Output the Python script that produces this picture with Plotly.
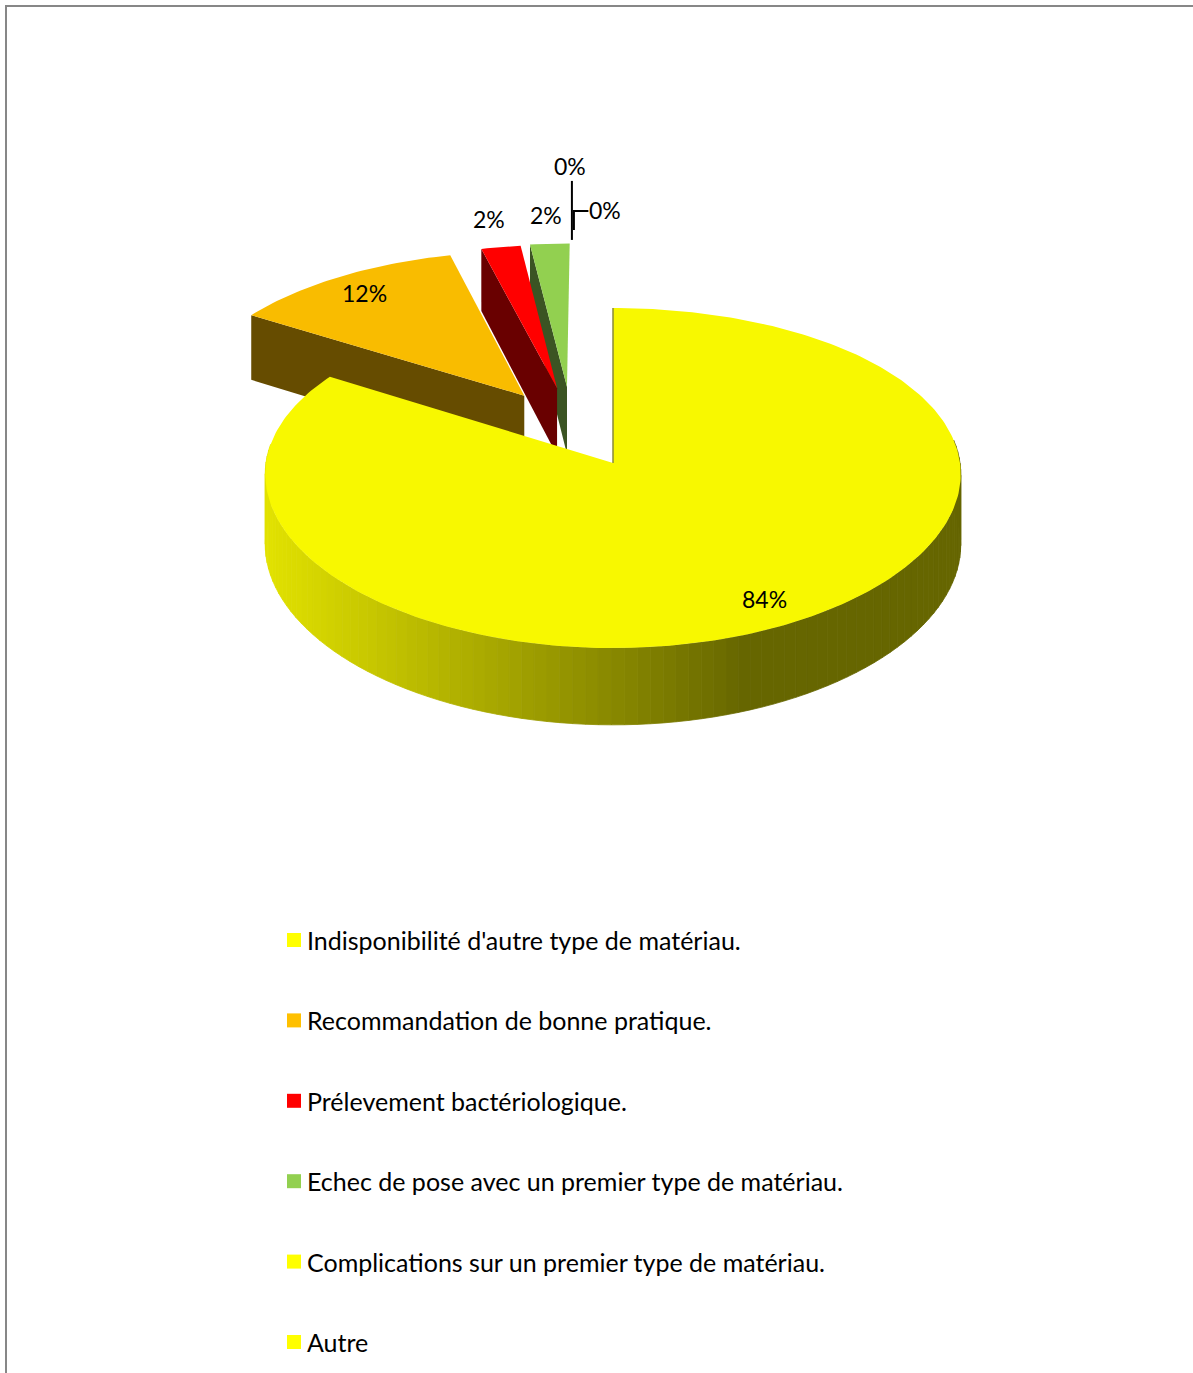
import math
import plotly.graph_objects as go

# Survey answers: reasons for the choice of catheter material (counts)
categories = [
    "Indisponibilité d'autre type de matériau.",
    "Recommandation de bonne pratique.",
    "Prélevement bactériologique.",
    "Echec de pose avec un premier type de matériau.",
    "Complications sur un premier type de matériau.",
    "Autre",
]
counts = [42, 6, 1, 1, 0, 0]

# Colours: top face, side face, legend key
top_colors = ["#F8F800", "#F9BC00", "#FF0000", "#92D050", "#F8F800", "#F8F800"]
side_colors = ["#666600", "#664C00", "#690000", "#3B5423", "#666600", "#666600"]
key_colors = ["#FFFF00", "#FFC000", "#FF0000", "#92D050", "#FFFF00", "#FFFF00"]
exploded = [False, True, True, True, True, True]

W, H = 1193, 1373
# 3-D view of the disc: centre, radii, perspective strength and thickness (px)
CX, CY = 613.0, 463.0
RX, RY = 347.0, 168.7
PERSP_X, PERSP_Y = 0.065, 0.0884
THICK = 70.0
PULL = 0.49            # explosion distance, in radius units
LABEL_IN, LABEL_OUT = 0.86, 1.22
FONT = "Lato"

# legend block
LEG_X, LEG_Y0, LEG_STEP, KEY = 287, 940, 80.4, 14


def proj(u, v, z=0.0):
    """Disc coords (u right, v away from viewer, z depth 0..1) -> page px."""
    wx = 1.0 + PERSP_X * v
    wy = 1.0 + PERSP_Y * v
    return CX + RX * u / wx, CY - RY * v / wy + z * THICK / wy


def disc(theta_deg, r, off):
    t = math.radians(theta_deg)
    return off[0] + r * math.sin(t), off[1] + r * math.cos(t)


total = sum(counts)
angles = []
acc = 0.0
for c in counts:
    a0 = 360.0 * acc / total
    acc += c
    angles.append((a0, 360.0 * acc / total))

# exploded slices are pushed half-way between their own bisector and the
# bisector of the whole exploded group
grp = [a for a, e in zip(angles, exploded) if e]
grp_mid = (grp[0][0] + grp[-1][1]) / 2.0
offsets = []
for (a0, a1), e in zip(angles, exploded):
    if e:
        d = math.radians(((a0 + a1) / 2.0 + grp_mid) / 2.0)
        offsets.append((PULL * math.sin(d), PULL * math.cos(d)))
    else:
        offsets.append((0.0, 0.0))

fig = go.Figure()


def poly(pts, color, line=None):
    xs = [p[0] for p in pts] + [pts[0][0]]
    ys = [p[1] for p in pts] + [pts[0][1]]
    fig.add_trace(go.Scatter(
        x=xs, y=ys, mode="lines", fill="toself", fillcolor=color,
        line=dict(width=line[1] if line else 0, color=line[0] if line else color),
        hoverinfo="skip", showlegend=False))


def lerp_col(x):
    # horizontal shading of the curved wall: light on the left, dark on the right
    x0, x1 = 267.0, 745.0
    t = min(max((x - x0) / (x1 - x0), 0.0), 1.0)
    g = round(226 - t * (226 - 102))
    return f"rgb({g},{g},0)"


def draw_slice(i):
    a0, a1 = angles[i]
    if a1 - a0 <= 0:
        return
    off = offsets[i]
    apex_top = proj(off[0], off[1], 0)
    apex_bot = proj(off[0], off[1], 1)
    # radial cut faces that face the viewer
    for ang, sgn in ((a0, -1), (a1, 1)):
        n = math.radians(ang + sgn * 90)
        if math.cos(n) < -1e-6:
            ou, ov = disc(ang, 1.0, off)
            poly([apex_top, proj(ou, ov, 0), proj(ou, ov, 1), apex_bot], side_colors[i])
    # outer curved wall, split into strips for the shading
    n_steps = max(2, int((a1 - a0) / 2.0))
    strips = []
    for k in range(n_steps):
        t0 = a0 + (a1 - a0) * k / n_steps
        t1 = a0 + (a1 - a0) * (k + 1) / n_steps
        mid = math.radians((t0 + t1) / 2)
        if math.cos(mid) < 0.12:
            strips.append((math.cos(mid), t0, t1))
    strips.sort(key=lambda s: -s[0])
    for _, t0, t1 in strips:
        p = [proj(*disc(t0, 1.0, off), 0), proj(*disc(t1, 1.0, off), 0),
             proj(*disc(t1, 1.0, off), 1), proj(*disc(t0, 1.0, off), 1)]
        xm = sum(q[0] for q in p) / 4
        col = lerp_col(xm) if i == 0 else side_colors[i]
        poly(p, col, (col, 0.8))
    # top face
    pts = [apex_top]
    n_arc = max(2, int((a1 - a0) / 1.0))
    for k in range(n_arc + 1):
        t = a0 + (a1 - a0) * k / n_arc
        pts.append(proj(*disc(t, 1.0, off), 0))
    poly(pts, top_colors[i])


# paint back-to-front: slices lying further away first
order = sorted(range(len(counts)), key=lambda i: -offsets[i][1])
for i in order:
    draw_slice(i)

# edge-on cut face of the main slice at twelve o'clock
a_start = angles[0][0]
fig.add_trace(go.Scatter(
    x=[proj(*disc(a_start, 1.0, offsets[0]))[0], proj(*offsets[0])[0]],
    y=[proj(*disc(a_start, 1.0, offsets[0]))[1], proj(*offsets[0])[1]],
    mode="lines", line=dict(color="#8A8A3A", width=1.5),
    hoverinfo="skip", showlegend=False))

# data labels
annotations = []
zero_seen = 0
for i, c in enumerate(counts):
    a0, a1 = angles[i]
    mid = (a0 + a1) / 2.0
    pct = f"{round(100 * c / total)}%"
    if c == 0:
        # labels of empty slices sit above the disc with leader lines
        ax_, ay_ = proj(*disc(mid, 1.0, offsets[i]))
        if zero_seen == 0:
            lx, ly = ax_ - 4, ay_ - 77
            fig.add_trace(go.Scatter(
                x=[ax_ - 2.5, ax_ - 2.5], y=[ay_ - 3, ly + 15], mode="lines",
                line=dict(color="black", width=2), hoverinfo="skip", showlegend=False))
        else:
            lx, ly = ax_ + 31, ay_ - 33
            fig.add_trace(go.Scatter(
                x=[ax_ - 0.5, ax_ - 0.5, lx - 17], y=[ay_ - 13, ly + 1, ly + 1],
                mode="lines", line=dict(color="black", width=2),
                hoverinfo="skip", showlegend=False))
        zero_seen += 1
    else:
        r = LABEL_IN if (a1 - a0) > 20 else LABEL_OUT
        lx, ly = proj(*disc(mid, r, offsets[i]))
    annotations.append(dict(
        x=lx, y=ly, xref="x", yref="y", text=pct, showarrow=False,
        font=dict(family=FONT, size=23, color="black"),
        xanchor="center", yanchor="middle"))

# legend: colour keys and category names
shapes = [dict(type="rect", xref="x", yref="y", x0=6, y0=6, x1=W + 10, y1=H + 10,
               line=dict(color="#878787", width=2), layer="below")]
for i, name in enumerate(categories):
    yc = LEG_Y0 + LEG_STEP * i
    shapes.append(dict(type="rect", xref="x", yref="y",
                       x0=LEG_X, x1=LEG_X + KEY, y0=yc - KEY / 2, y1=yc + KEY / 2,
                       fillcolor=key_colors[i], line=dict(width=0)))
    annotations.append(dict(
        x=LEG_X + KEY + 4, y=yc, xref="x", yref="y", text=name, showarrow=False,
        font=dict(family=FONT, size=25, color="black"),
        xanchor="left", yanchor="middle"))

fig.update_layout(
    width=W, height=H,
    margin=dict(l=0, r=0, t=0, b=0, autoexpand=False),
    paper_bgcolor="white", plot_bgcolor="white",
    xaxis=dict(range=[0, W], visible=False, fixedrange=True),
    yaxis=dict(range=[H, 0], visible=False, fixedrange=True),
    annotations=annotations,
    showlegend=False,
    shapes=shapes,
)

fig.write_html("out.html")
